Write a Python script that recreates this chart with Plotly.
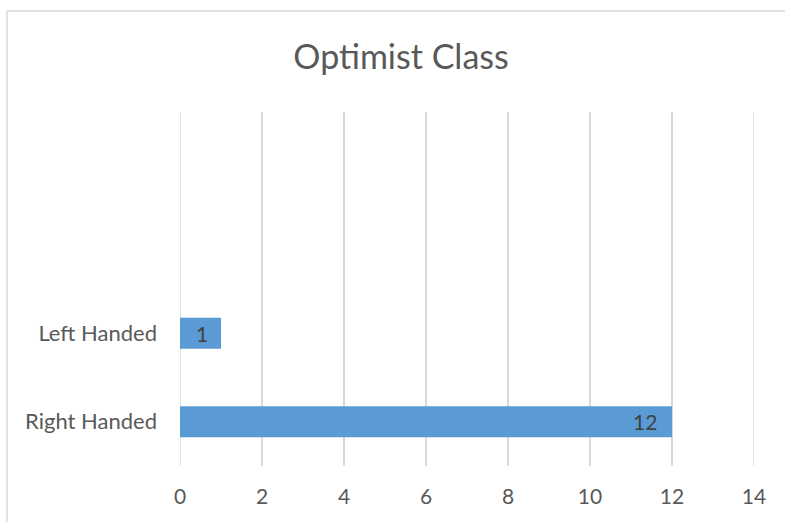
import plotly.graph_objects as go

categories = ["Right Handed", "Left Handed"]
values = [12, 1]
x_ticks = [0, 2, 4, 6, 8, 10, 12, 14]
title_text = "Optimist Class"

W, H = 785, 522
L, R, T, B = 180, 31, 112, 56
pw, ph = W - L - R, H - T - B

def px_x(p):
    return (p - L) / pw

def px_y(p):
    return (H - B - p) / ph

FONT = "Lato"
TXT = "#595959"
GRID = "#D9D9D9"

fig = go.Figure()
fig.add_trace(go.Bar(
    y=categories, x=values, orientation="h",
    marker=dict(color="#5B9BD5", line=dict(width=0)),
    width=0.35, hoverinfo="skip",
))

for c, v in zip(categories, values):
    fig.add_annotation(
        x=v, y=c, text=str(v), showarrow=False,
        xanchor="right", xshift=-13 if v >= 10 else -11,
        font=dict(family=FONT, size=21, color="#404040"),
    )

# edge gridlines (plotly skips gridlines on the plot-area border)
for t in (x_ticks[0], x_ticks[-1]):
    fig.add_shape(type="line", xref="x", yref="paper", x0=t, x1=t, y0=0, y1=1,
                  line=dict(color=GRID, width=1.5), layer="below")

fig.add_shape(
    type="rect", xref="paper", yref="paper",
    x0=px_x(7), x1=px_x(800), y0=px_y(530), y1=px_y(11),
    line=dict(color=GRID, width=1.5), fillcolor="rgba(0,0,0,0)",
    layer="below",
)

fig.update_layout(
    width=W, height=H,
    margin=dict(l=L, r=R, t=T, b=B, pad=0),
    paper_bgcolor="white", plot_bgcolor="white",
    showlegend=False,
    title=dict(text=title_text, x=401 / W, xref="container", xanchor="center",
               y=1 - 57 / H, yref="container", yanchor="middle",
               font=dict(family=FONT, size=34, color=TXT)),
    xaxis=dict(range=[0, 14], tickvals=x_ticks, showgrid=True,
               gridcolor=GRID, gridwidth=1.5, zeroline=False, showline=False,
               ticks="", ticklabelstandoff=16,
               tickfont=dict(family=FONT, size=21, color=TXT), fixedrange=True),
    yaxis=dict(range=[-0.5, 3.5], type="category", categoryorder="array",
               categoryarray=categories, showgrid=False, zeroline=False,
               showline=False, ticks="", ticklabelstandoff=22,
               tickfont=dict(family=FONT, size=22, color=TXT), fixedrange=True),
    bargap=0.65,
)

fig.write_html("out.html", config={"displayModeBar": False},
               post_script="document.body.style.margin='0';document.body.style.padding='0';")
